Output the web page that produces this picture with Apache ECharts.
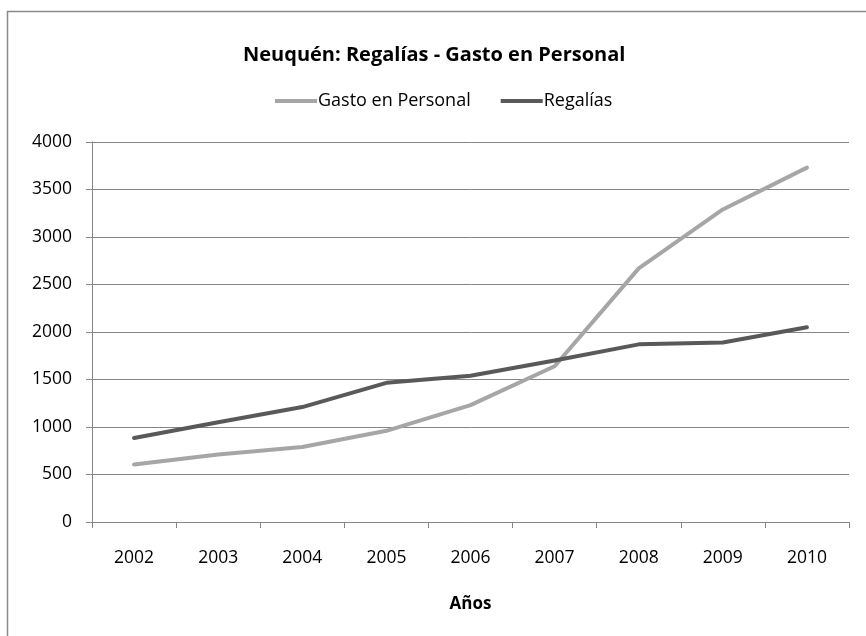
<!DOCTYPE html>
<html>
<head>
<meta charset="utf-8">
<script src="https://cdn.jsdelivr.net/npm/echarts@6/dist/echarts.min.js"></script>
<style>
html,body{margin:0;padding:0;background:#fff;}
#chart{width:866px;height:636px;}
</style>
</head>
<body>
<div id="chart"></div>
<script>
const years = ['2002','2003','2004','2005','2006','2007','2008','2009','2010'];
const gastoPersonal = [605, 710, 790, 960, 1230, 1640, 2670, 3290, 3730];
const regalias = [885, 1050, 1210, 1465, 1540, 1700, 1870, 1890, 2050];
const yTicks = {min: 0, max: 4000, interval: 500};

const FONT = '"Open Sans", "Liberation Sans", sans-serif';
const chart = echarts.init(document.getElementById('chart'), null, {renderer: 'canvas'});
chart.setOption({
  backgroundColor: '#ffffff',
  animation: false,
  graphic: [{
    type: 'rect', left: 5, top: 9, shape: {x: 0, y: 0, width: 880, height: 650},
    style: {fill: 'none', stroke: '#8a8a8a', lineWidth: 1.5}, silent: true, z: -1
  }],
  title: {
    text: 'Neuquén: Regalías - Gasto en Personal',
    left: 238, top: 40,
    textStyle: {fontFamily: FONT, fontSize: 20, fontWeight: 'bold', color: '#000'}
  },
  legend: {
    left: 270, top: 87,
    itemWidth: 42, itemHeight: 4, itemGap: 30,
    icon: 'rect',
    textStyle: {fontFamily: FONT, fontSize: 18, color: '#000', padding: [0, 0, 0, -4]},
    data: ['Gasto en Personal', 'Regalías']
  },
  grid: {left: 92, right: 17, top: 142, bottom: 114, containLabel: false},
  xAxis: {
    type: 'category', data: years, boundaryGap: true,
    name: 'Años', nameLocation: 'middle', nameGap: 74,
    nameTextStyle: {fontFamily: FONT, fontSize: 17, fontWeight: 'bold', color: '#000'},
    axisLine: {lineStyle: {color: '#868686', width: 1}},
    axisTick: {show: true, length: 6, inside: false, alignWithLabel: false, lineStyle: {color: '#868686'}},
    axisLabel: {fontFamily: FONT, fontSize: 17.5, color: '#000', margin: 27},
    splitLine: {show: false}
  },
  yAxis: {
    type: 'value', min: yTicks.min, max: yTicks.max, interval: yTicks.interval,
    axisLine: {show: true, lineStyle: {color: '#868686', width: 1}},
    axisTick: {show: true, length: 6, lineStyle: {color: '#868686'}},
    axisLabel: {fontFamily: FONT, fontSize: 17.5, color: '#000', margin: 20, formatter: v => String(v)},
    splitLine: {show: true, lineStyle: {color: '#868686', width: 1}}
  },
  series: [
    {
      name: 'Gasto en Personal', type: 'line', data: gastoPersonal,
      symbol: 'none', lineStyle: {color: '#a6a6a6', width: 4, cap: 'round'},
      itemStyle: {color: '#a6a6a6'}, z: 2
    },
    {
      name: 'Regalías', type: 'line', data: regalias,
      symbol: 'none', lineStyle: {color: '#595959', width: 4, cap: 'round'},
      itemStyle: {color: '#595959'}, z: 3
    }
  ]
});
</script>
</body>
</html>
